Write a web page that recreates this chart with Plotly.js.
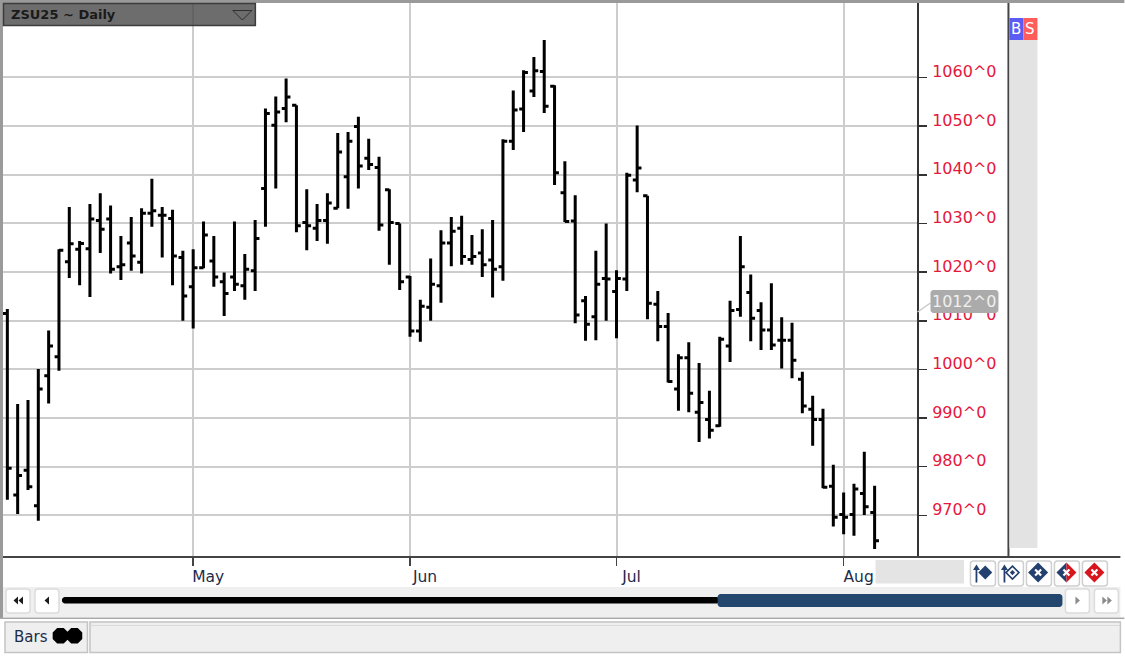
<!DOCTYPE html>
<html>
<head>
<meta charset="utf-8">
<script src="https://cdn.plot.ly/plotly-3.0.1.min.js"></script>
<style>html,body{margin:0;padding:0;background:#fff;overflow:hidden}#c{width:1125px;height:656px}</style>
</head>
<body>
<div id="c"></div>
<script>
const dates = [
'2025-04-04','2025-04-07','2025-04-08','2025-04-09','2025-04-10','2025-04-11','2025-04-14','2025-04-15','2025-04-16','2025-04-17','2025-04-21','2025-04-22','2025-04-23','2025-04-24','2025-04-25','2025-04-28','2025-04-29','2025-04-30',
'2025-05-01','2025-05-02','2025-05-05','2025-05-06','2025-05-07','2025-05-08','2025-05-09','2025-05-12','2025-05-13','2025-05-14','2025-05-15','2025-05-16','2025-05-19','2025-05-20','2025-05-21','2025-05-22','2025-05-23','2025-05-27','2025-05-28','2025-05-29','2025-05-30',
'2025-06-02','2025-06-03','2025-06-04','2025-06-05','2025-06-06','2025-06-09','2025-06-10','2025-06-11','2025-06-12','2025-06-13','2025-06-16','2025-06-17','2025-06-18','2025-06-20','2025-06-23','2025-06-24','2025-06-25','2025-06-26','2025-06-27','2025-06-30',
'2025-07-01','2025-07-02','2025-07-03','2025-07-07','2025-07-08','2025-07-09','2025-07-10','2025-07-11','2025-07-14','2025-07-15','2025-07-16','2025-07-17','2025-07-18','2025-07-21','2025-07-22','2025-07-23','2025-07-24','2025-07-25','2025-07-28','2025-07-29','2025-07-30','2025-07-31',
'2025-08-01','2025-08-04','2025-08-05','2025-08-06'];
const opens = [1011.5,974.2,979.3,972,998.7,1002.6,1022.1,1024.7,1024.8,1030.6,1030.9,1021.1,1026,1022,1032.1,1031.7,1031,1023,
1017,1020.9,1022.3,1018,1019,1017.2,1020.3,1037.2,1050.2,1053.6,1054.3,1030.2,1029,1030.6,1033.1,1039.6,1049.9,1043.4,1041.5,1036.9,1030,
1019,1007.9,1012.8,1017.2,1026,1029,1022.6,1023.9,1022.5,1021.1,1046.9,1053.5,1057.2,1061.2,1058.2,1036.3,1030.5,1014.1,1010.8,1018.7,
1016,1018.6,1038.9,1035.7,1013.4,1008.8,996,1002.4,991.2,989.7,988.4,1004.8,1012.3,1015.8,1012.1,1008.1,1006,1006,998,991.8,989.7,976,
970.2,970.2,974.5,970.6];
const highs = [1012.4,992.9,993.7,1000.1,1008,1024.7,1033.4,1026.4,1034,1036.2,1033.7,1027.4,1031.3,1033.1,1039.2,1033.4,1032.8,1024.4,
1024.7,1030.4,1027.4,1019.9,1030.4,1023.7,1030.7,1053.6,1056.1,1059.8,1054.3,1037,1034,1036.2,1048.6,1048.8,1051.9,1047.4,1043.7,1037,1030,
1019.2,1014.3,1022.8,1028.6,1031.3,1031.6,1027.6,1028.8,1030.7,1047.3,1057.3,1061.5,1064.2,1067.7,1058.4,1042.8,1035.8,1015.1,1024.4,1030,
1020.4,1040.4,1050.1,1035.7,1016.1,1011.6,1003.1,1005.6,1001.3,995.6,1006.7,1014.1,1027.4,1019.5,1013.8,1017.7,1010.7,1009.6,999.5,994.6,991.9,980.4,
974.7,976.5,983.1,976.1];
const lows = [973.2,970.3,975.2,968.9,993,999.7,1018.8,1017.3,1014.9,1023.9,1019.7,1018.4,1020.3,1019.7,1029.3,1023,1017.3,1010,
1008.4,1020.8,1017,1011,1016.1,1014.3,1016.1,1029.3,1037.2,1050.8,1028.2,1024.5,1026.4,1025.8,1033.1,1033,1037.2,1041,1028.5,1021.5,1016.3,
1006.7,1005.7,1010,1013.7,1021.2,1021.5,1021.5,1019,1014.8,1018.2,1045.1,1048.8,1056,1052.7,1037.9,1030.3,1009.5,1005.9,1006,1010,
1006.4,1016.1,1036.4,1010.3,1005.8,997.3,991.5,991.2,985.1,985.8,988.2,1001.5,1010.8,1005.8,1004,1004,1000.2,998.2,991,984.3,975.6,967.7,
966.1,965.8,970.1,963.1];
const closes = [979.7,978.2,975.9,996,1004.8,1024.5,1025.8,1025.9,1030.9,1028.8,1020.6,1021.5,1023.3,1032.1,1032.6,1031.7,1023.3,1015.1,
1020.9,1027.6,1019,1015.6,1017.5,1020.6,1026.9,1052.6,1052.9,1056,1029.5,1029.5,1030.6,1034.2,1044.7,1046.9,1041.8,1042.1,1029.7,1030.2,1018,
1007.9,1013,1017.5,1026,1028.4,1023.2,1023.2,1021.5,1020.6,1046.9,1053.3,1061,1061.4,1054.1,1040.4,1030.4,1011.2,1009.3,1017.5,1018.6,
1018.7,1039.9,1041.4,1013.6,1008.8,997.5,1002.4,995.1,993.2,987.5,1006.2,1012.1,1021.1,1010.5,1008.1,1005,1006,1001.9,992.5,989.7,975.8,969.6,
969.6,975.4,971.8,964.8];
const monthTickVals = ['2025-05-01','2025-06-02','2025-07-01','2025-08-01'];
const monthTickText = ['May','Jun','Jul','Aug'];
const priceTickVals = [970,980,990,1000,1010,1020,1030,1040,1050,1060];
const priceTickText = ['970^0','980^0','990^0','1000^0','1010^0','1020^0','1030^0','1040^0','1050^0','1060^0'];
const symbolTitle = 'ZSU25 ~ Daily';
const lastPriceLabel = '1012^0';

const W = 1125, H = 656, L = 3, R = 917.5, T = 3, B = 557;
const px = v => (v - L) / (R - L);
const py = v => 1 - (v - T) / (B - T);
const shapes = [], notes = [];
function rect(x0, y0, x1, y1, fill, line, lw) {
  shapes.push({type:'rect', xref:'paper', yref:'paper', x0:px(x0), x1:px(x1), y0:py(y1), y1:py(y0),
    fillcolor:fill, line:{color:line||'rgba(0,0,0,0)', width:lw===undefined?(line?1:0):lw}, layer:'above'});
}
function seg(x0, y0, x1, y1, color, lw) {
  shapes.push({type:'line', xref:'paper', yref:'paper', x0:px(x0), x1:px(x1), y0:py(y0), y1:py(y1),
    line:{color:color, width:lw}, layer:'above'});
}
function poly(pts, fill, line, lw, open) {
  const d = pts.map((p,i)=>(i?'L':'M')+px(p[0])+' '+py(p[1])).join(' ') + (open?'':' Z');
  shapes.push({type:'path', xref:'paper', yref:'paper', path:d, fillcolor:fill||'rgba(0,0,0,0)',
    line:{color:line||'rgba(0,0,0,0)', width:lw||0}, layer:'above'});
}
function roundRect(x0, y0, x1, y1, r, fill, line, lw) {
  const P = (x,y)=>px(x)+' '+py(y);
  const k = r*0.45;
  const d = 'M'+P(x0+r,y0)+' L'+P(x1-r,y0)+' C'+P(x1-k,y0)+' '+P(x1,y0+k)+' '+P(x1,y0+r)+
    ' L'+P(x1,y1-r)+' C'+P(x1,y1-k)+' '+P(x1-k,y1)+' '+P(x1-r,y1)+
    ' L'+P(x0+r,y1)+' C'+P(x0+k,y1)+' '+P(x0,y1-k)+' '+P(x0,y1-r)+
    ' L'+P(x0,y0+r)+' C'+P(x0,y0+k)+' '+P(x0+k,y0)+' '+P(x0+r,y0)+' Z';
  shapes.push({type:'path', xref:'paper', yref:'paper', path:d, fillcolor:fill,
    line:{color:line||'rgba(0,0,0,0)', width:lw||0}, layer:'above'});
}
function label(x, y, text, color, size, anchor, weight) {
  notes.push({xref:'paper', yref:'paper', x:px(x), y:py(y), text:text, showarrow:false,
    xanchor:anchor||'left', yanchor:'middle', borderpad:0,
    font:{family:'"DejaVu Sans", sans-serif', size:size, color:color, weight:weight||400}});
}
const diamond = (cx,cy,a)=>[[cx,cy-a],[cx+a,cy],[cx,cy+a],[cx-a,cy]];

// window frame
rect(0,0,W,3,'#9a9a9a');
rect(0,0,3,618,'#9a9a9a');
seg(3,B,1121,B,'#444',2);
seg(1009,T,1009,B,'#444',2);

// symbol box
rect(3.5,3.5,255.5,25.5,'rgba(72,72,72,0.8)','#3c3c3c',1.5);
label(10,14.5,symbolTitle,'#1a1a1a',13,'left',700);
poly([[233,10.5],[252,10.5],[242.5,20]],'rgba(0,0,0,0)','#2e2e2e',1);

// buy/sell column
rect(1010,18,1024,40,'#5c5cf5');
rect(1024,18,1038,40,'#ff5c5c');
rect(1010,40,1038,548,'#e3e3e3');
label(1017,29,'B','#ffffff',15,'center');
label(1031,29,'S','#ffffff',15,'center');

// last price tag
seg(918,312,931,303,'#c8c8c8',1.5);
roundRect(931,290,999,313,3,'#ababab');
label(965,301.5,lastPriceLabel,'#f0f0f0',16,'center');

// date gutter box
rect(876,560,964.5,583.5,'#e4e4e4');

// order buttons
[[971,996],[999,1024],[1027,1052],[1055,1080],[1083,1108]].forEach(b=>roundRect(b[0],561,b[1],586,3,'#ffffff','#cfcfcf',1.5));
const navy='#23406e', red='#d8141c';
seg(977,569,977,582.5,navy,1.8); poly([[977,564.5],[980.5,570],[973.5,570]],navy);
poly(diamond(985.8,572.6,7),navy);
seg(1005,569,1005,582.5,navy,1.8); poly([[1005,564.5],[1008.5,570],[1001.5,570]],navy);
poly(diamond(1013,572.6,6.5),'#ffffff',navy,1.6);
poly(diamond(1013,572.6,2.6),navy);
function xMark(cx,cy){seg(cx-3,cy-3,cx+3,cy+3,'#ffffff',2.2);seg(cx-3,cy+3,cx+3,cy-3,'#ffffff',2.2);}
poly(diamond(1038.7,572.5,10),navy); xMark(1038.7,572.5);
poly([[1067,562.5],[1067,582.5],[1057,572.5]],navy);
poly([[1067,562.5],[1077,572.5],[1067,582.5]],red); xMark(1067,572.5);
poly(diamond(1095,572.5,10),red); xMark(1095,572.5);

// scrollbar row
rect(3,587,1121,617,'#efefef');
[[6,30],[35,59],[1066,1090],[1095,1119]].forEach(b=>roundRect(b[0],589,b[1],613,3,'#ffffff','#dcdcdc',1.5));
const dk='#1c1c1c', gr='#8a8a8a';
poly([[18,596.5],[18,604.5],[13.5,600.5]],dk); poly([[23,596.5],[23,604.5],[18.5,600.5]],dk);
poly([[49,596.5],[49,604.5],[44.5,600.5]],dk);
poly([[1076,596.5],[1076,604.5],[1080.5,600.5]],gr);
poly([[1103,596.5],[1103,604.5],[1107.5,600.5]],gr); poly([[1108,596.5],[1108,604.5],[1112.5,600.5]],gr);
roundRect(62,597,720,603.5,3,'#000000');
roundRect(718,594,1063,607,3,'#23466e');

// status row
rect(0,617.5,1125,619,'#a8a8a8');
rect(5,622,87.5,652.5,'#efefef','#c4c4c4',1.5);
rect(90,622,1121,652.5,'#efefef','#c4c4c4',1.5);
seg(90,625.5,1121,625.5,'#dadada',1);
label(13.5,636.5,'Bars','#1d2b4a',15);
const octa=(cx,cy,r)=>{const k=r*0.42;return [[cx-k,cy-r],[cx+k,cy-r],[cx+r,cy-k],[cx+r,cy+k],[cx+k,cy+r],[cx-k,cy+r],[cx-r,cy+k],[cx-r,cy-k]];};
poly(octa(60.5,635.8,7.8),'#000000'); poly(octa(74.5,635.8,7.8),'#000000');

const trace = {
  type:'ohlc', x:dates, open:opens, high:highs, low:lows, close:closes,
  increasing:{line:{color:'#000000', width:3}},
  decreasing:{line:{color:'#000000', width:3}},
  tickwidth:0.42, hoverinfo:'skip', showlegend:false
};
const layout = {
  width:W, height:H, autosize:false, showlegend:false, dragmode:false, hovermode:false,
  paper_bgcolor:'#ffffff', plot_bgcolor:'#ffffff',
  margin:{l:L, r:W-R, t:T, b:H-B, pad:0},
  xaxis:{type:'category', categoryorder:'array', categoryarray:dates, range:[-0.42,88.105],
    tickmode:'array', tickvals:monthTickVals, ticktext:monthTickText,
    ticks:'outside', ticklen:8, tickcolor:'#444', tickwidth:1.5,
    ticklabelshift:15, ticklabelstandoff:-3,
    tickfont:{family:'"DejaVu Sans", sans-serif', size:15.5, color:'#1d2b4a'},
    showgrid:true, gridcolor:'#cdcdcd', gridwidth:2, zeroline:false, showline:false,
    rangeslider:{visible:false}, fixedrange:true},
  yaxis:{side:'right', range:[961.45,1075.3], tickmode:'array', tickvals:priceTickVals, ticktext:priceTickText,
    ticks:'outside', ticklen:8, tickcolor:'#333', tickwidth:1.5,
    ticklabelshift:-6, ticklabelstandoff:2,
    tickfont:{family:'"DejaVu Sans", sans-serif', size:16, color:'#e5183c'},
    showgrid:true, gridcolor:'#cdcdcd', gridwidth:2, zeroline:false, showline:true, linecolor:'#333', linewidth:2, fixedrange:true},
  shapes:shapes, annotations:notes
};
Plotly.newPlot('c',[trace],layout,{displayModeBar:false,staticPlot:true});
</script>
</body>
</html>
